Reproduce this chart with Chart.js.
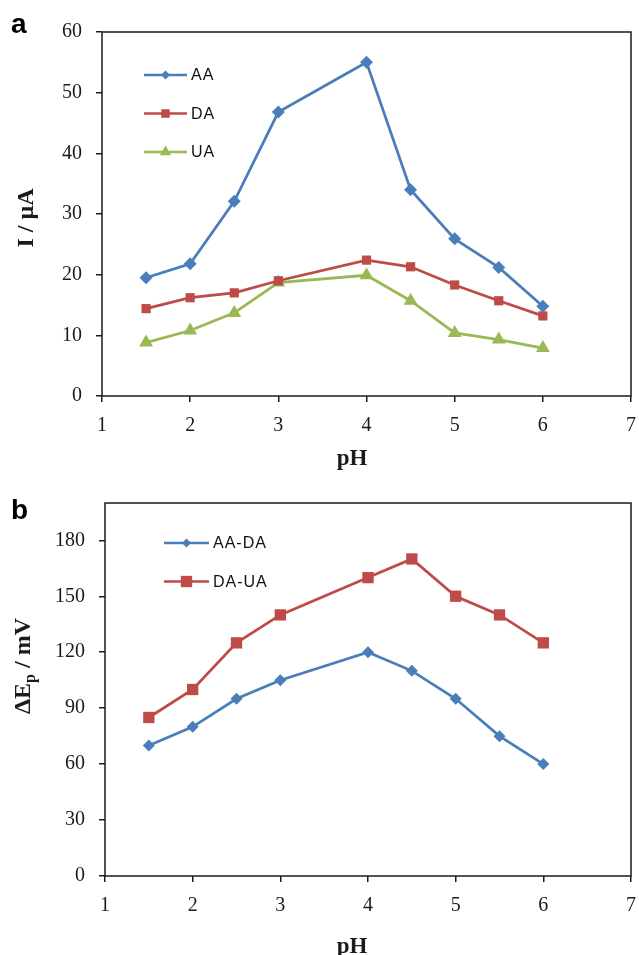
<!DOCTYPE html>
<html>
<head>
<meta charset="utf-8">
<title>pH dependence</title>
<script src="https://cdn.jsdelivr.net/npm/chart.js@4.4.1/dist/chart.umd.min.js"></script>
<style>
  html, body { margin: 0; padding: 0; background: #fff; }
  #wrap { position: relative; width: 639px; height: 955px; overflow: hidden; }
  canvas { position: absolute; left: 0; }
  #chartA { top: 0; }
  #chartB { top: 480px; }
</style>
</head>
<body>
<div id="wrap">
  <canvas id="chartA" width="639" height="480"></canvas>
  <canvas id="chartB" width="639" height="475"></canvas>
</div>
<script>
// ================== Data ==================
const phValues = [1.5, 2, 2.5, 3, 4, 4.5, 5, 5.5, 6];

// (a) peak currents, µA
const currentAA = [19.5, 21.8, 32.1, 46.8, 55, 34.0, 25.9, 21.2, 14.8];
const currentDA = [14.4, 16.2, 17.0, 19.0, 22.4, 21.3, 18.3, 15.7, 13.2];
const currentUA = [8.8, 10.8, 13.7, 18.7, 19.9, 15.7, 10.4, 9.3, 7.9];

// (b) peak separations, mV
const sepAADA = [70, 80, 95, 105, 120, 110, 95, 75, 60];
const sepDAUA = [85, 100, 125, 140, 160, 170, 150, 140, 125];

// axis ranges
const phRange = { min: 1, max: 7, step: 1 };
const currentRange = { min: 0, max: 60, step: 10 };
const sepRange = { min: 0, max: 200, step: 30 };

const BLUE = "#4a7ebb", RED = "#be4b48", GREEN = "#98b954";
const INK = "#1b1b1b";

// =============== helpers ===============
function toPoints(ys){ return phValues.map((x, i) => ({ x, y: ys[i] })); }

function drawMarker(ctx, shape, x, y, r, color){
  ctx.fillStyle = color;
  ctx.beginPath();
  if (shape === "rectRot") {
    ctx.moveTo(x, y - r); ctx.lineTo(x + r, y); ctx.lineTo(x, y + r); ctx.lineTo(x - r, y);
  } else if (shape === "rect") {
    const s = r * Math.SQRT1_2;
    ctx.rect(x - s, y - s, 2 * s, 2 * s);
  } else {
    ctx.moveTo(x, y - r);
    ctx.lineTo(x + r * 0.866, y + r * 0.5);
    ctx.lineTo(x - r * 0.866, y + r * 0.5);
  }
  ctx.closePath();
  ctx.fill();
}

// frame, panel letter, axis titles and in-plot legend
const decor = {
  id: "decor",
  afterDraw(chart, args, o){
    const ctx = chart.ctx, a = chart.chartArea;
    ctx.save();
    ctx.strokeStyle = INK; ctx.lineWidth = 1.5;
    ctx.strokeRect(a.left, a.top, a.right - a.left, a.bottom - a.top);

    ctx.fillStyle = "#000";
    ctx.font = "bold 28px 'Liberation Sans', Arial, sans-serif";
    ctx.textAlign = "left"; ctx.textBaseline = "alphabetic";
    ctx.fillText(o.letter, o.letterX, o.letterY);

    ctx.fillStyle = INK;
    ctx.font = "bold 23px 'Liberation Serif', serif";
    ctx.textAlign = "center"; ctx.textBaseline = "middle";
    ctx.fillText("pH", o.xTitleX, o.xTitleY);

    // rotated y title, parts may be subscripted
    const big = "bold 24px 'Liberation Serif', serif";
    const small = "bold 16px 'Liberation Serif', serif";
    let total = 0;
    o.yTitle.forEach(p => { ctx.font = p.sub ? small : big; total += ctx.measureText(p.t).width; });
    ctx.translate(o.yTitleX, o.yTitleY);
    ctx.rotate(-Math.PI / 2);
    ctx.textAlign = "left";
    let cx = -total / 2;
    o.yTitle.forEach(p => {
      ctx.font = p.sub ? small : big;
      ctx.fillText(p.t, cx, p.sub ? 7 : 0);
      cx += ctx.measureText(p.t).width;
    });
    ctx.setTransform(1, 0, 0, 1, 0, 0);

    ctx.font = "16px 'Liberation Sans', Arial, sans-serif";
    ctx.letterSpacing = "1px";
    ctx.textAlign = "left"; ctx.textBaseline = "middle";
    o.legend.forEach((it, i) => {
      const y = o.legY + i * o.legGap;
      ctx.strokeStyle = it.color; ctx.lineWidth = 2.5;
      ctx.beginPath(); ctx.moveTo(o.legX, y); ctx.lineTo(o.legX + o.legLen, y); ctx.stroke();
      drawMarker(ctx, it.shape, o.legX + o.legLen / 2, y, it.r, it.color);
      ctx.fillStyle = "#111";
      ctx.fillText(it.label, o.legX + o.legLen + 4, y + 1);
    });
    ctx.restore();
  }
};

function series(label, ys, color, shape, r){
  return {
    label, data: toPoints(ys),
    borderColor: color, backgroundColor: color, borderWidth: 2.75,
    pointStyle: shape, pointRadius: r, pointBorderWidth: 0,
    pointBackgroundColor: color, tension: 0
  };
}

// fixed-size axis so the plot box lands in the same place every time
function axis(range, fontPad, size, fitKey, fitVal){
  return {
    type: "linear", min: range.min, max: range.max,
    afterFit: s => {
      s[fitKey] = fitVal;
      s.paddingLeft = 0; s.paddingRight = 0; s.paddingTop = 0; s.paddingBottom = 0;
    },
    grid: { drawOnChartArea: false, drawTicks: true, tickLength: 6, color: INK, lineWidth: 1.5 },
    border: { display: false },
    ticks: { stepSize: range.step, padding: fontPad, color: INK, includeBounds: false,
      font: { family: "'Liberation Serif', serif", size } }
  };
}

// =============== Panel a ===============
new Chart(document.getElementById("chartA"), {
  type: "line",
  data: { datasets: [
    series("AA", currentAA, BLUE, "rectRot", 6.5),
    series("DA", currentDA, RED, "rect", 6.5),
    series("UA", currentUA, GREEN, "triangle", 8)
  ]},
  options: {
    responsive: false, animation: false,
    layout: { padding: { left: 0, top: 32, right: 6, bottom: 0 } },
    plugins: {
      legend: { display: false }, tooltip: { enabled: false },
      decor: {
        letter: "a", letterX: 11, letterY: 33,
        xTitleX: 352, xTitleY: 459,
        yTitle: [{ t: "I / µA" }], yTitleX: 27, yTitleY: 218,
        legX: 144, legY: 75, legGap: 38.5, legLen: 43,
        legend: [
          { label: "AA", color: BLUE, shape: "rectRot", r: 4.5 },
          { label: "DA", color: RED, shape: "rect", r: 6 },
          { label: "UA", color: GREEN, shape: "triangle", r: 6.5 }
        ]
      }
    },
    scales: {
      x: axis(phRange, 12, 20, "height", 84),
      y: axis(currentRange, 14, 20, "width", 102)
    }
  },
  plugins: [decor]
});

// =============== Panel b ===============
new Chart(document.getElementById("chartB"), {
  type: "line",
  data: { datasets: [
    series("AA-DA", sepAADA, BLUE, "rectRot", 6),
    series("DA-UA", sepDAUA, RED, "rect", 8)
  ]},
  options: {
    responsive: false, animation: false,
    layout: { padding: { left: 0, top: 23, right: 6, bottom: 0 } },
    plugins: {
      legend: { display: false }, tooltip: { enabled: false },
      decor: {
        letter: "b", letterX: 11, letterY: 39,
        xTitleX: 352, xTitleY: 467,
        yTitle: [{ t: "ΔE" }, { t: "p", sub: true }, { t: " / mV" }], yTitleX: 24, yTitleY: 186,
        legX: 164, legY: 63, legGap: 38.5, legLen: 45,
        legend: [
          { label: "AA-DA", color: BLUE, shape: "rectRot", r: 4.5 },
          { label: "DA-UA", color: RED, shape: "rect", r: 8 }
        ]
      }
    },
    scales: {
      x: axis(phRange, 12, 20, "height", 79),
      y: axis(sepRange, 14, 20, "width", 105)
    }
  },
  plugins: [decor]
});
</script>
</body>
</html>
